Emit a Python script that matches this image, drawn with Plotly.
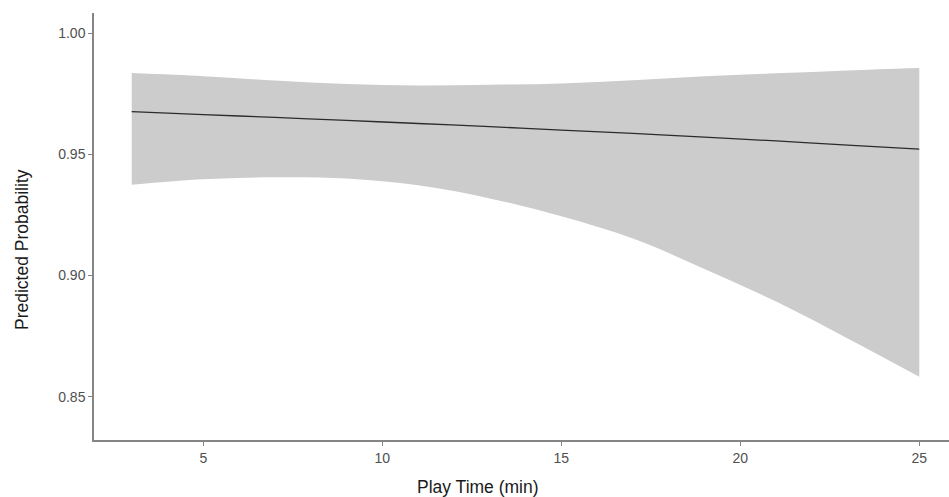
import plotly.graph_objects as go

play_time = [3, 5, 7, 9, 11, 13, 15, 17, 19, 21, 23, 25]
predicted = [0.9676, 0.9664, 0.9652, 0.9640, 0.9627, 0.9614, 0.9600, 0.9586, 0.9571, 0.9555, 0.9538, 0.9521]
upper_ci = [0.9835, 0.9822, 0.9804, 0.9790, 0.9784, 0.9787, 0.9792, 0.9806, 0.9822, 0.9834, 0.9846, 0.9856]
lower_ci = [0.9374, 0.9397, 0.9405, 0.9400, 0.9372, 0.9318, 0.9244, 0.9152, 0.9027, 0.8892, 0.8740, 0.8582]

x_ticks = [5, 10, 15, 20, 25]
y_ticks = [0.85, 0.90, 0.95, 1.00]
y_tick_labels = ["0.85", "0.90", "0.95", "1.00"]

fig = go.Figure()
fig.add_trace(go.Scatter(x=play_time, y=lower_ci, mode="lines",
                         line=dict(width=0, shape="spline", smoothing=1.0),
                         hoverinfo="skip", showlegend=False))
fig.add_trace(go.Scatter(x=play_time, y=upper_ci, mode="lines", fill="tonexty",
                         fillcolor="#cccccc",
                         line=dict(width=0, shape="spline", smoothing=1.0),
                         hoverinfo="skip", showlegend=False))
fig.add_trace(go.Scatter(x=play_time, y=predicted, mode="lines",
                         line=dict(color="#2b2b2b", width=1.3, shape="spline"),
                         showlegend=False))

axis_common = dict(showgrid=False, zeroline=False, showline=True, linecolor="#858585",
                   linewidth=1.5, ticks="outside", ticklen=4, tickwidth=1.2,
                   tickcolor="#858585",
                   tickfont=dict(family="Liberation Sans, Arial", size=14, color="#505050"))

fig.update_layout(
    width=949, height=497,
    margin=dict(l=94, r=0, t=13, b=57),
    paper_bgcolor="white", plot_bgcolor="white",
    xaxis=dict(range=[1.947, 25.83], tickvals=x_ticks, **axis_common),
    yaxis=dict(range=[0.8321, 1.0083], tickvals=y_ticks, ticktext=y_tick_labels, **axis_common),
    annotations=[
        dict(text="Play Time (min)", xref="paper", yref="paper",
             x=(478 - 94) / (949 - 94), y=-(487 - 440) / 427, xanchor="center", yanchor="middle",
             showarrow=False, font=dict(family="Liberation Sans, Arial", size=17.5, color="#1a1a1a")),
        dict(text="Predicted Probability", xref="paper", yref="paper",
             x=-(94 - 22) / (949 - 94), y=(440 - 250) / 427, xanchor="center", yanchor="middle",
             textangle=-90, showarrow=False,
             font=dict(family="Liberation Sans, Arial", size=17.5, color="#1a1a1a")),
    ],
)

fig.write_html("out.html")
